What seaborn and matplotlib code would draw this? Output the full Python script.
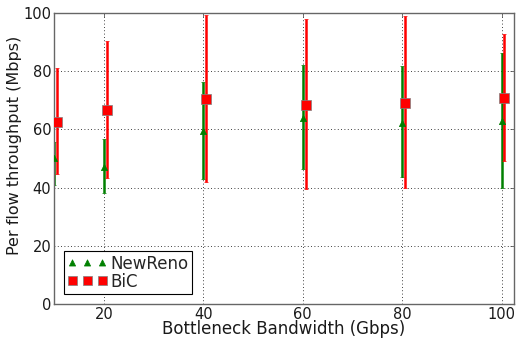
import numpy as np
import pandas as pd
import matplotlib
matplotlib.use("Agg")
import matplotlib.pyplot as plt
import seaborn as sns

# bottleneck bandwidth (Gbps)
bandwidth = [10, 20, 40, 60, 80, 100]

# NewReno: mean, low, high (Mbps)
newreno_mean = [50.0, 47.1, 59.3, 63.9, 62.2, 63.0]
newreno_low = [41.0, 38.1, 43.0, 46.4, 43.6, 40.0]
newreno_high = [55.5, 56.7, 76.1, 82.2, 81.6, 86.3]

# BiC: mean, low, high (Mbps)
bic_mean = [62.6, 66.6, 70.4, 68.4, 69.0, 70.7]
bic_low = [44.8, 43.3, 41.9, 39.5, 40.0, 49.0]
bic_high = [81.0, 90.4, 99.3, 98.0, 99.0, 92.8]

sns.set_style("white")
plt.rcParams["font.family"] = ["DejaVu Sans"]

fig = plt.figure(figsize=(5.16, 3.39), dpi=100)
ax = fig.add_axes([0.105, 0.103, 0.891, 0.859])

series = [
    ("NewReno", newreno_mean, newreno_low, newreno_high, "green", "^", 0.0, 4.5),
    ("BiC", bic_mean, bic_low, bic_high, "red", "s", 0.6, 6.5),
]
for name, m, lo, hi, col, mk, dx, ms in series:
    x = np.array(bandwidth) + dx
    m = np.array(m)
    yerr = [m - np.array(lo), np.array(hi) - m]
    ax.errorbar(x, m, yerr=yerr, fmt="none", ecolor=col, elinewidth=1.8,
                capsize=1.5, capthick=0.5, zorder=2)
    df = pd.DataFrame({"x": x, "y": m})
    sns.scatterplot(data=df, x="x", y="y", ax=ax, marker=mk, s=ms ** 2,
                    color=col, edgecolor="0.5" if mk == "s" else col,
                    linewidth=0.5, zorder=3, label=name)

ax.set_xlim(10, 102.5)
ax.set_ylim(0, 100)
ax.set_xticks([20, 40, 60, 80, 100])
ax.set_yticks([0, 20, 40, 60, 80, 100])
ax.tick_params(labelsize=10.5, length=3, width=0.6, direction="in", top=True,
               right=True, colors="0.35", labelcolor="0.1", pad=2)
ax.grid(True, color="black", linestyle=(0, (1, 3)), linewidth=0.6)
for s in ax.spines.values():
    s.set_color("0.4")
    s.set_linewidth(1)
ax.set_xlabel("Bottleneck Bandwidth (Gbps)", fontsize=12, labelpad=-1, color="0.1")
ax.set_ylabel("Per flow throughput (Mbps)", fontsize=11.5, color="0.1")
ax.yaxis.set_label_coords(-0.07, 0.545)

leg = ax.legend(loc="lower left", scatterpoints=3, scatteryoffsets=[0.5],
                fontsize=12, fancybox=False, edgecolor="black", framealpha=1,
                borderpad=0.2, handletextpad=0.2, labelspacing=0.0,
                borderaxespad=0.6, handlelength=2.4)
leg.get_frame().set_linewidth(0.8)

fig.savefig("out.png", dpi=100)
